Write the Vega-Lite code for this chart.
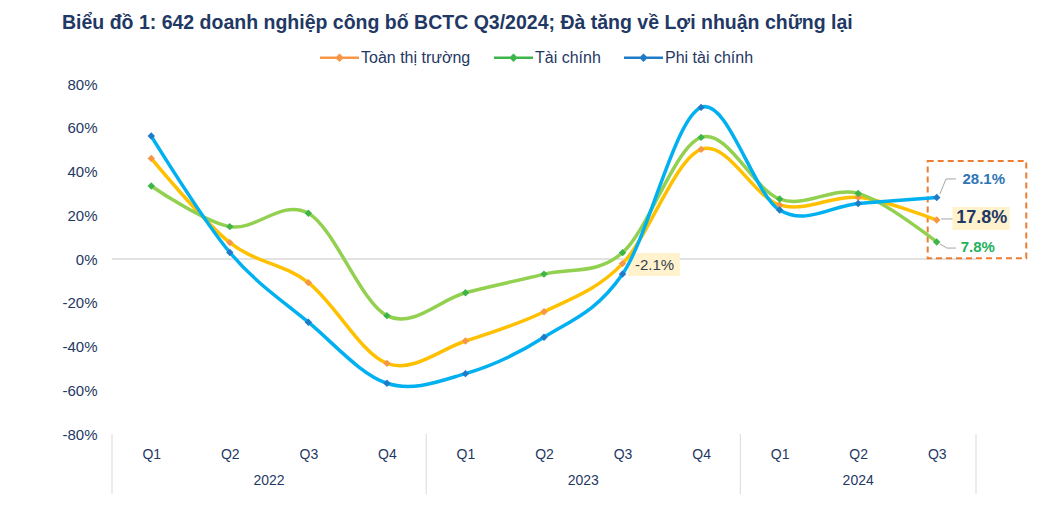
{
  "$schema": "https://vega.github.io/schema/vega-lite/v6.json",
  "autosize": "none",
  "width": 864,
  "height": 350,
  "padding": {"left": 112, "top": 84, "right": 82, "bottom": 77},
  "background": "white",
  "config": {"view": {"stroke": null}, "font": "Liberation Sans"},
  "title": {
    "text": "Biểu đồ 1: 642 doanh nghiệp công bố BCTC Q3/2024; Đà tăng về Lợi nhuận chững lại",
    "anchor": "start", "frame": "group", "fontSize": 19.5, "fontWeight": "bold", "color": "#1F3864",
    "dx": -50, "offset": 5, "font": "Liberation Sans"
  },
  "datasets": {
    "series": [
      {"series": "Toàn thị trường", "year": 2022, "q": "Q1", "i": 0, "v": 46.0},
      {"series": "Toàn thị trường", "year": 2022, "q": "Q2", "i": 1, "v": 7.5},
      {"series": "Toàn thị trường", "year": 2022, "q": "Q3", "i": 2, "v": -10.8},
      {"series": "Toàn thị trường", "year": 2022, "q": "Q4", "i": 3, "v": -47.7},
      {"series": "Toàn thị trường", "year": 2023, "q": "Q1", "i": 4, "v": -37.5},
      {"series": "Toàn thị trường", "year": 2023, "q": "Q2", "i": 5, "v": -24.1},
      {"series": "Toàn thị trường", "year": 2023, "q": "Q3", "i": 6, "v": -2.1},
      {"series": "Toàn thị trường", "year": 2023, "q": "Q4", "i": 7, "v": 50.1},
      {"series": "Toàn thị trường", "year": 2024, "q": "Q1", "i": 8, "v": 24.7},
      {"series": "Toàn thị trường", "year": 2024, "q": "Q2", "i": 9, "v": 28.2},
      {"series": "Toàn thị trường", "year": 2024, "q": "Q3", "i": 10, "v": 17.8},
      {"series": "Tài chính", "year": 2022, "q": "Q1", "i": 0, "v": 33.4},
      {"series": "Tài chính", "year": 2022, "q": "Q2", "i": 1, "v": 14.8},
      {"series": "Tài chính", "year": 2022, "q": "Q3", "i": 2, "v": 20.9},
      {"series": "Tài chính", "year": 2022, "q": "Q4", "i": 3, "v": -25.9},
      {"series": "Tài chính", "year": 2023, "q": "Q1", "i": 4, "v": -15.4},
      {"series": "Tài chính", "year": 2023, "q": "Q2", "i": 5, "v": -6.9},
      {"series": "Tài chính", "year": 2023, "q": "Q3", "i": 6, "v": 2.9},
      {"series": "Tài chính", "year": 2023, "q": "Q4", "i": 7, "v": 55.6},
      {"series": "Tài chính", "year": 2024, "q": "Q1", "i": 8, "v": 27.4},
      {"series": "Tài chính", "year": 2024, "q": "Q2", "i": 9, "v": 30.0},
      {"series": "Tài chính", "year": 2024, "q": "Q3", "i": 10, "v": 7.8},
      {"series": "Phi tài chính", "year": 2022, "q": "Q1", "i": 0, "v": 56.2},
      {"series": "Phi tài chính", "year": 2022, "q": "Q2", "i": 1, "v": 3.0},
      {"series": "Phi tài chính", "year": 2022, "q": "Q3", "i": 2, "v": -28.9},
      {"series": "Phi tài chính", "year": 2022, "q": "Q4", "i": 3, "v": -56.8},
      {"series": "Phi tài chính", "year": 2023, "q": "Q1", "i": 4, "v": -52.4},
      {"series": "Phi tài chính", "year": 2023, "q": "Q2", "i": 5, "v": -35.8},
      {"series": "Phi tài chính", "year": 2023, "q": "Q3", "i": 6, "v": -6.9},
      {"series": "Phi tài chính", "year": 2023, "q": "Q4", "i": 7, "v": 69.3},
      {"series": "Phi tài chính", "year": 2024, "q": "Q1", "i": 8, "v": 22.4},
      {"series": "Phi tài chính", "year": 2024, "q": "Q2", "i": 9, "v": 25.4},
      {"series": "Phi tài chính", "year": 2024, "q": "Q3", "i": 10, "v": 28.1}
    ],
    "years": [
      {"year": "2022", "mid": 1.5},
      {"year": "2023", "mid": 5.5},
      {"year": "2024", "mid": 9}
    ],
    "bounds": [
      {"b": -0.5}, {"b": 3.5}, {"b": 7.5}, {"b": 10.5}
    ],
    "one": [{}]
  },
  "layer": [
    {
      "data": {"name": "one"},
      "mark": {"type": "rule", "color": "#D9D9D9", "strokeWidth": 1.5},
      "encoding": {"y": {"datum": 0, "type": "quantitative", "scale": {"domain": [-80, 80], "nice": false}}}
    },
    {
      "data": {"name": "bounds"},
      "mark": {"type": "rule", "color": "#D9D9D9", "strokeWidth": 1},
      "encoding": {
        "x": {"field": "b", "type": "quantitative"},
        "y": {"datum": -80, "type": "quantitative"},
        "y2": {"datum": -107.5}
      }
    },
    {
      "data": {"name": "years"},
      "mark": {"type": "text", "fontSize": 14, "color": "#1F3864", "baseline": "middle"},
      "encoding": {
        "x": {"field": "mid", "type": "quantitative"},
        "y": {"datum": -101.5, "type": "quantitative"},
        "text": {"field": "year"}
      }
    },
    {
      "data": {"name": "one"},
      "mark": {"type": "rect", "fill": "#FFF2CC"},
      "encoding": {
        "x": {"datum": 6.07, "type": "quantitative"}, "x2": {"datum": 6.73},
        "y": {"datum": 2.7, "type": "quantitative"}, "y2": {"datum": -7.8}
      }
    },
    {
      "data": {"name": "one"},
      "mark": {"type": "rect", "fill": "#FFF2CC"},
      "encoding": {
        "x": {"datum": 10.2, "type": "quantitative"}, "x2": {"datum": 10.93},
        "y": {"datum": 23.8, "type": "quantitative"}, "y2": {"datum": 13.3}
      }
    },
    {
      "data": {"name": "one"},
      "mark": {"type": "rect", "filled": false, "fill": null, "stroke": "#ED7D31", "strokeWidth": 2, "strokeDash": [6, 4]},
      "encoding": {
        "x": {"datum": 9.885, "type": "quantitative"}, "x2": {"datum": 11.14},
        "y": {"datum": 44.8, "type": "quantitative"}, "y2": {"datum": 0.4}
      }
    },
    {
      "data": {"name": "series"},
      "mark": {"type": "line", "interpolate": "cardinal", "strokeWidth": 3.5},
      "encoding": {
        "x": {"field": "i", "type": "quantitative",
          "scale": {"domain": [-0.5, 10.5], "nice": false, "zero": false},
          "axis": {"values": [0,1,2,3,4,5,6,7,8,9,10], "labelExpr": "'Q' + (datum.value % 4 + 1)",
            "title": null, "grid": false, "domain": false, "ticks": false, "labelPadding": 13,
            "labelFontSize": 14, "labelColor": "#1F3864", "labelFont": "Liberation Sans"}},
        "y": {"field": "v", "type": "quantitative",
          "scale": {"domain": [-80, 80], "nice": false},
          "axis": {"values": [-80,-60,-40,-20,0,20,40,60,80], "labelExpr": "datum.value + '%'",
            "title": null, "grid": false, "domain": false, "ticks": false, "labelPadding": 15,
            "labelFontSize": 15, "labelColor": "#1F3864", "labelFont": "Liberation Sans"}},
        "color": {"field": "series", "type": "nominal",
          "scale": {"domain": ["Toàn thị trường", "Tài chính", "Phi tài chính"], "range": ["#FFC000", "#92D050", "#00B0F0"]},
          "legend": {"orient": "none", "legendX": 208, "legendY": -46, "direction": "horizontal", "title": null,
            "symbolType": "M-1,-0.07H1V0.07H-1Z M0,-0.22L0.22,0L0,0.22L-0.22,0Z", "symbolSize": 1521,
            "symbolStrokeWidth": 0, "labelFontSize": 16, "labelColor": "#1F3864", "labelOffset": 2,
            "columnPadding": 23, "labelFont": "Liberation Sans",
            "encode": {"symbols": {"update": {"fill": {"scale": "color", "field": "value"}, "fillOpacity": {"value": 1}}}}}},
        "order": {"field": "i"}
      }
    },
    {
      "data": {"name": "series"},
      "mark": {"type": "point", "shape": "diamond", "filled": true, "size": 55, "opacity": 1},
      "encoding": {
        "x": {"field": "i", "type": "quantitative"},
        "y": {"field": "v", "type": "quantitative"},
        "fill": {"field": "series", "type": "nominal",
          "scale": {"domain": ["Toàn thị trường", "Tài chính", "Phi tài chính"], "range": ["#F79646", "#3DB54A", "#1F7BC8"]},
          "legend": null}
      }
    },
    {
      "data": {"name": "one"},
      "mark": {"type": "rule", "color": "#A6A6A6", "strokeWidth": 1},
      "encoding": {"x": {"datum": 10.04, "type": "quantitative"}, "x2": {"datum": 10.118}, "y": {"datum": 29.7, "type": "quantitative"}, "y2": {"datum": 36.6}}
    },
    {
      "data": {"name": "one"},
      "mark": {"type": "rule", "color": "#A6A6A6", "strokeWidth": 1},
      "encoding": {"x": {"datum": 10.118, "type": "quantitative"}, "x2": {"datum": 10.245}, "y": {"datum": 36.6, "type": "quantitative"}, "y2": {"datum": 36.6}}
    },
    {
      "data": {"name": "one"},
      "mark": {"type": "rule", "color": "#A6A6A6", "strokeWidth": 1},
      "encoding": {"x": {"datum": 10.055, "type": "quantitative"}, "x2": {"datum": 10.2}, "y": {"datum": 18.3, "type": "quantitative"}, "y2": {"datum": 18.3}}
    },
    {
      "data": {"name": "one"},
      "mark": {"type": "rule", "color": "#A6A6A6", "strokeWidth": 1},
      "encoding": {"x": {"datum": 10.04, "type": "quantitative"}, "x2": {"datum": 10.13}, "y": {"datum": 6.9, "type": "quantitative"}, "y2": {"datum": 5.0}}
    },
    {
      "data": {"name": "one"},
      "mark": {"type": "rule", "color": "#A6A6A6", "strokeWidth": 1},
      "encoding": {"x": {"datum": 10.13, "type": "quantitative"}, "x2": {"datum": 10.245}, "y": {"datum": 5.0, "type": "quantitative"}, "y2": {"datum": 5.0}}
    },
    {
      "data": {"name": "series"},
      "transform": [{"filter": "datum.series == 'Phi tài chính' && datum.i == 10"}, {"calculate": "datum.v + '%'", "as": "lbl"}],
      "mark": {"type": "text", "fontSize": 15, "fontWeight": "bold", "color": "#2E75B6", "dx": 47, "dy": -18.5, "baseline": "middle", "align": "center"},
      "encoding": {"x": {"field": "i", "type": "quantitative"}, "y": {"field": "v", "type": "quantitative"}, "text": {"field": "lbl"}}
    },
    {
      "data": {"name": "series"},
      "transform": [{"filter": "datum.series == 'Toàn thị trường' && datum.i == 10"}, {"calculate": "datum.v + '%'", "as": "lbl"}],
      "mark": {"type": "text", "fontSize": 18, "fontWeight": "bold", "color": "#1F3864", "dx": 45, "dy": -2, "baseline": "middle", "align": "center"},
      "encoding": {"x": {"field": "i", "type": "quantitative"}, "y": {"field": "v", "type": "quantitative"}, "text": {"field": "lbl"}}
    },
    {
      "data": {"name": "series"},
      "transform": [{"filter": "datum.series == 'Tài chính' && datum.i == 10"}, {"calculate": "datum.v + '%'", "as": "lbl"}],
      "mark": {"type": "text", "fontSize": 15, "fontWeight": "bold", "color": "#22B15A", "dx": 41, "dy": 5, "baseline": "middle", "align": "center"},
      "encoding": {"x": {"field": "i", "type": "quantitative"}, "y": {"field": "v", "type": "quantitative"}, "text": {"field": "lbl"}}
    },
    {
      "data": {"name": "series"},
      "transform": [{"filter": "datum.series == 'Toàn thị trường' && datum.i == 6"}, {"calculate": "datum.v + '%'", "as": "lbl"}],
      "mark": {"type": "text", "fontSize": 15, "color": "#333F50", "dx": 32, "dy": 1, "baseline": "middle", "align": "center"},
      "encoding": {"x": {"field": "i", "type": "quantitative"}, "y": {"field": "v", "type": "quantitative"}, "text": {"field": "lbl"}}
    }
  ]
}
